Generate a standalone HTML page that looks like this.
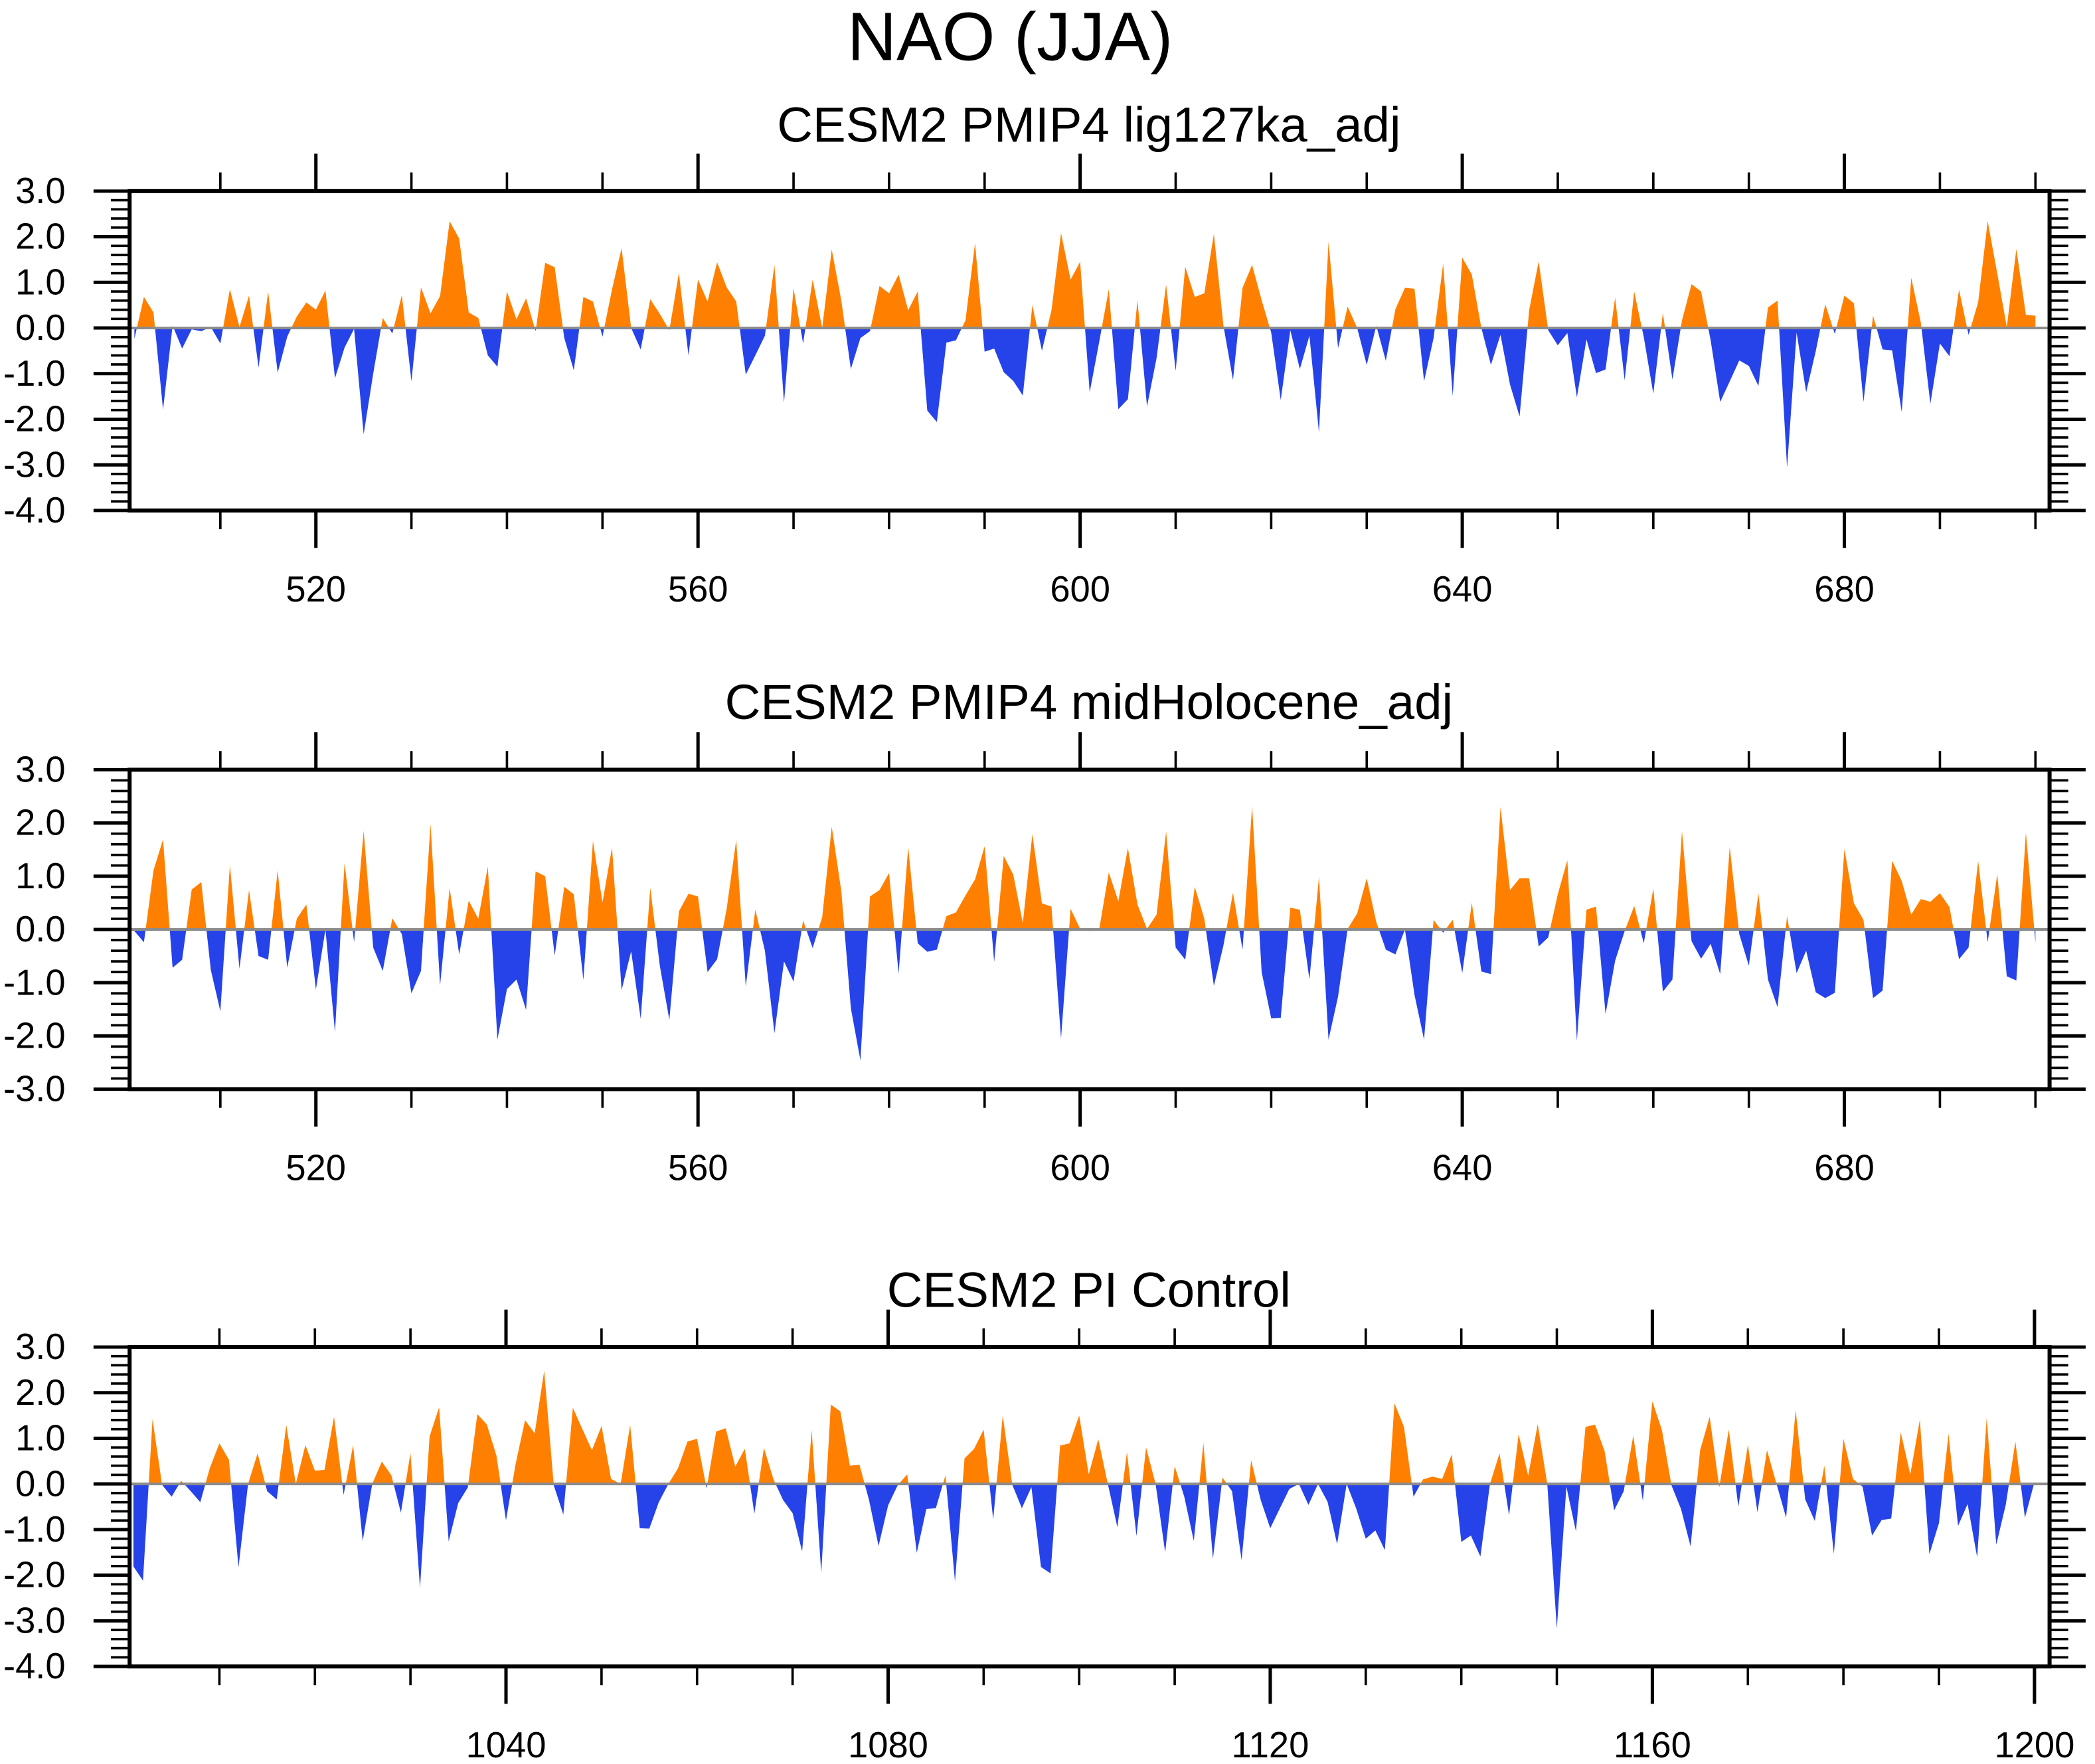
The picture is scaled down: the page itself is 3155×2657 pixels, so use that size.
<!DOCTYPE html>
<html><head><meta charset="utf-8"><style>
html,body{margin:0;padding:0;background:#fff}
svg{display:block}
text{font-family:"Liberation Sans",Arial,sans-serif;fill:#000}
</style></head><body>
<svg id="chart" width="3155" height="2657" viewBox="0 0 1568 1320" preserveAspectRatio="none" xmlns="http://www.w3.org/2000/svg">
<text x="756" y="45" font-size="51" text-anchor="middle">NAO (JJA)</text>
</svg>
<script>
// ---- data ----
const yearsA = Array.from({length:200},(_,i)=>501+i);
const yearsC = Array.from({length:200},(_,i)=>1001+i);
const lig127 = [-0.24,0.68,0.34,-1.79,0.05,-0.45,-0.03,-0.07,0.02,-0.34,0.85,0.02,0.71,-0.87,0.8,-0.98,-0.19,0.25,0.56,0.4,
0.82,-1.1,-0.43,-0.02,-2.33,-1.0,0.22,-0.12,0.72,-1.17,0.89,0.32,0.7,2.34,1.96,0.34,0.22,-0.6,-0.85,0.8,
0.19,0.65,-0.07,1.43,1.33,-0.22,-0.93,0.68,0.58,-0.19,0.85,1.75,0.0,-0.47,0.63,0.31,-0.05,1.21,-0.6,1.06,
0.58,1.44,0.89,0.58,-1.02,-0.6,-0.17,1.38,-1.64,0.87,-0.34,1.06,0.0,1.72,0.6,-0.9,-0.22,-0.07,0.92,0.76,
1.17,0.39,0.8,-1.81,-2.06,-0.32,-0.27,0.17,1.86,-0.52,-0.45,-0.97,-1.16,-1.48,0.5,-0.5,0.39,2.08,1.06,1.45,
-1.41,-0.3,0.85,-1.78,-1.56,0.61,-1.72,-0.66,0.95,-0.94,1.34,0.68,0.76,2.06,0.05,-1.14,0.88,1.38,0.61,-0.1,
-1.58,-0.05,-0.9,-0.17,-2.29,1.89,-0.44,0.47,0.0,-0.81,0.05,-0.72,0.41,0.88,0.86,-1.17,-0.22,1.41,-1.49,1.54,
1.17,0.0,-0.81,-0.15,-1.24,-1.94,0.39,1.46,-0.05,-0.38,-0.11,-1.52,-0.25,-0.99,-0.91,0.67,-1.15,0.8,-0.2,-1.44,
0.33,-1.13,0.17,0.96,0.8,-0.27,-1.62,-1.17,-0.71,-0.83,-1.27,0.45,0.6,-3.06,-0.1,-1.41,-0.51,0.52,-0.13,0.71,
0.54,-1.62,0.27,-0.47,-0.49,-1.84,1.1,0.12,-1.66,-0.34,-0.62,0.84,-0.15,0.56,2.34,1.2,0.02,1.73,0.29,0.27];
const midHolo = [-0.03,-0.24,1.11,1.69,-0.72,-0.57,0.75,0.89,-0.76,-1.54,1.21,-0.74,0.74,-0.5,-0.57,1.11,-0.72,0.2,0.47,-1.13,
0.0,-1.93,1.25,-0.24,1.85,-0.34,-0.78,0.21,-0.09,-1.2,-0.78,1.98,-1.05,0.78,-0.47,0.54,0.2,1.18,-2.07,-1.12,
-0.94,-1.51,1.09,1.0,-0.49,0.8,0.66,-0.95,1.66,0.51,1.54,-1.14,-0.41,-1.68,0.78,-0.68,-1.7,0.34,0.67,0.62,
-0.8,-0.56,0.39,1.68,-1.07,0.37,-0.4,-1.95,-0.6,-0.98,0.17,-0.35,0.23,1.93,0.72,-1.48,-2.46,0.62,0.74,1.06,
-0.83,1.55,-0.26,-0.42,-0.38,0.25,0.32,0.64,0.94,1.56,-0.61,1.38,1.03,0.12,1.79,0.49,0.43,-2.05,0.39,0.01,
-0.03,0.01,1.07,0.53,1.53,0.47,0.01,0.28,1.84,-0.34,-0.57,0.8,0.2,-1.06,-0.3,0.69,-0.38,2.32,-0.8,-1.67,
-1.66,0.41,0.37,-0.94,0.99,-2.07,-1.26,0.01,0.3,0.96,0.14,-0.38,-0.47,0.0,-1.23,-2.07,0.18,-0.06,0.18,-0.82,
0.5,-0.79,-0.84,2.3,0.74,0.96,0.96,-0.32,-0.15,0.66,1.3,-2.09,0.37,0.43,-1.59,-0.59,-0.03,0.44,-0.26,0.77,
-1.17,-0.94,1.85,-0.22,-0.55,-0.27,-0.84,1.55,-0.09,-0.68,0.68,-0.94,-1.46,0.25,-0.82,-0.4,-1.18,-1.29,-1.19,1.51,
0.49,0.18,-1.29,-1.15,1.29,0.91,0.28,0.57,0.52,0.68,0.42,-0.56,-0.34,1.29,-0.24,1.04,-0.88,-0.96,1.82,-0.25];
const piControl = [-1.81,-2.12,1.42,-0.02,-0.28,0.07,-0.16,-0.4,0.35,0.89,0.53,-1.83,0.0,0.67,-0.16,-0.34,1.29,0.0,0.85,0.29,
0.31,1.47,-0.24,0.85,-1.25,0.0,0.49,0.19,-0.63,0.68,-2.28,1.04,1.68,-1.26,-0.42,-0.08,1.53,1.3,0.62,-0.8,
0.43,1.4,1.11,2.48,-0.03,-0.67,1.67,1.2,0.74,1.27,0.11,0.0,1.29,-0.97,-0.98,-0.4,0.0,0.34,0.93,0.99,
-0.1,1.15,1.22,0.38,0.77,-0.65,0.79,0.1,-0.35,-0.64,-1.48,1.18,-1.95,1.74,1.59,0.4,0.42,-0.35,-1.36,-0.47,
-0.03,0.21,-1.51,-0.55,-0.53,0.19,-2.14,0.56,0.77,1.19,-0.78,1.5,-0.02,-0.53,-0.07,-1.82,-1.96,0.84,0.89,1.5,
0.21,0.98,0.0,-0.95,0.7,-1.14,0.8,0.0,-1.5,0.39,-0.28,-1.25,0.9,-1.64,0.14,-0.16,-1.67,0.52,-0.35,-0.97,
-0.54,-0.11,0.0,-0.46,0.0,-0.39,-1.32,0.0,-0.54,-1.2,-1.02,-1.45,1.77,1.25,-0.28,0.1,0.16,0.11,0.65,-1.27,
-1.13,-1.59,0.0,0.67,-0.69,1.09,0.18,1.31,0.0,-3.17,-0.06,-1.04,1.25,1.3,0.72,-0.58,-0.16,1.06,-0.37,1.81,
1.18,-0.03,-0.55,-1.37,0.74,1.47,-0.07,1.19,-0.5,0.86,-0.62,0.74,0.0,-0.74,1.62,-0.34,-0.81,0.4,-1.53,0.99,
0.11,-0.06,-1.13,-0.79,-0.76,1.13,0.21,1.41,-1.54,-0.86,1.1,-0.92,-0.44,-1.61,1.45,-1.33,-0.45,0.93,-0.74,0.04];
const titles = ["CESM2 PMIP4 lig127ka_adj","CESM2 PMIP4 midHolocene_adj","CESM2 PI Control"];
const yTicks1 = [3,2,1,0,-1,-2,-3,-4];
const yTicks2 = [3,2,1,0,-1,-2,-3];
const xLabelsA = [520,560,600,640,680];
const xLabelsC = [1040,1080,1120,1160,1200];

// ---- drawing ----
const NS="http://www.w3.org/2000/svg";
const svg=document.getElementById('chart');
function mk(tag,attrs,parent){const e=document.createElementNS(NS,tag);for(const k in attrs)e.setAttribute(k,attrs[k]);(parent||svg).appendChild(e);return e;}
const X0=97,X1=1534;
const panels=[
 {top:143,bot:382,ymin:-4,ymax:3,years:yearsA,vals:lig127,yt:yTicks1,xl:xLabelsA,xmin:500.5,title:titles[0],ty:106,lab:450},
 {top:576,bot:815,ymin:-3,ymax:3,years:yearsA,vals:midHolo,yt:yTicks2,xl:xLabelsA,xmin:500.5,title:titles[1],ty:538,lab:883},
 {top:1008,bot:1247,ymin:-4,ymax:3,years:yearsC,vals:piControl,yt:yTicks1,xl:xLabelsC,xmin:1000.6,title:titles[2],ty:978,lab:1315}
];
panels.forEach((p,pi)=>{
  const g=mk('g',{});
  
  
  const xs=v=>X0+(v-p.xmin)*7.15;
  const ys=v=>p.top+(p.ymax-v)/(p.ymax-p.ymin)*(p.bot-p.top);
  const t=mk('text',{x:815,y:p.ty,'font-size':37,'text-anchor':'middle'},g);
  t.textContent=p.title;
  
  
  const y0=ys(0);
  let d='M'+xs(p.years[0])+','+y0;
  p.years.forEach((yr,i)=>{d+=' L'+xs(yr).toFixed(2)+','+ys(p.vals[i]).toFixed(2);});
  d+=' L'+xs(p.years[p.years.length-1])+','+y0+' Z';
  const cpA='clipA'+pi, cpB='clipB'+pi;
  const c1=mk('clipPath',{id:cpA},g); mk('rect',{x:X0,y:p.top,width:X1-X0,height:y0-p.top},c1);
  const c2=mk('clipPath',{id:cpB},g); mk('rect',{x:X0,y:y0,width:X1-X0,height:p.bot-y0},c2);
  const pa=mk('path',{d:d,fill:'#FF8000','clip-path':'url(#'+cpA+')'},g);
  
  
  const pb=mk('path',{d:d,fill:'#2643EA','clip-path':'url(#'+cpB+')'},g);
  
  
  const zl=mk('line',{x1:X0,x2:X1,y1:y0,y2:y0,stroke:'#8c8c8c','stroke-width':2},g);
  
  
  const fr=mk('rect',{x:X0,y:p.top,width:X1-X0,height:p.bot-p.top,fill:'none',stroke:'#000','stroke-width':3},g);
  
  
  for(let v=p.ymin;v<=p.ymax+1e-6;v+=0.2){
    const vv=Math.round(v*10)/10, y=ys(vv), major=Math.abs(vv-Math.round(vv))<1e-6;
    const L=major?27:14;
    mk('line',{x1:X0-L,x2:X0,y1:y,y2:y,stroke:'#000','stroke-width':major?2.5:1.8},g);
    mk('line',{x1:X1,x2:X1+L,y1:y,y2:y,stroke:'#000','stroke-width':major?2.5:1.8},g);
  }
  p.yt.forEach(v=>{
    const tl=mk('text',{x:49,y:ys(v)+9,'font-size':27,'text-anchor':'end'},g);
    tl.textContent=v.toFixed(1);
    
    
  });
  const start=Math.ceil(p.xmin/10)*10;
  for(let yr=start; xs(yr)<=X1+0.5; yr+=10){
    const major=p.xl.includes(yr);
    const L=major?28:14, x=xs(yr);
    mk('line',{x1:x,x2:x,y1:p.top-L,y2:p.top,stroke:'#000','stroke-width':major?2.5:1.8},g);
    mk('line',{x1:x,x2:x,y1:p.bot,y2:p.bot+L,stroke:'#000','stroke-width':major?2.5:1.8},g);
  }
  p.xl.forEach(v=>{
    const tl=mk('text',{x:xs(v),y:p.lab,'font-size':27,'text-anchor':'middle'},g);
    tl.textContent=String(v);
    
    
  });
});
</script>
</body></html>
